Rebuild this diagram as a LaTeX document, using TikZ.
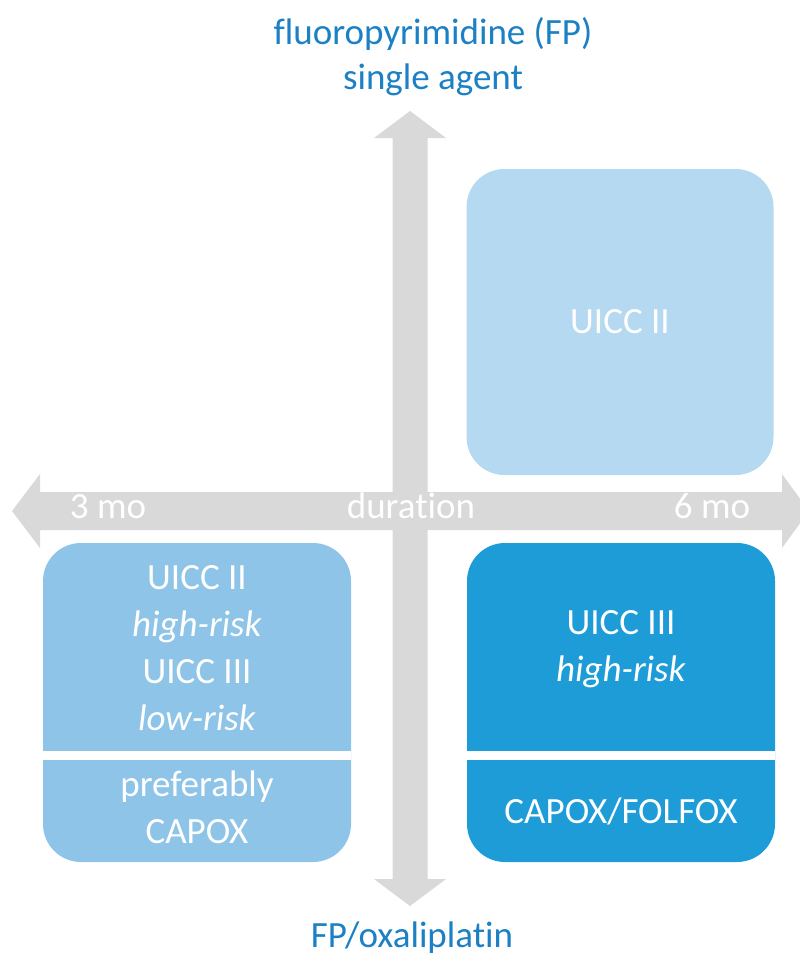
\documentclass[tikz,border=0pt]{standalone}
\usepackage{fontspec}
\setmainfont{Carlito}[Ligatures=NoCommon]
\usepackage{tikz}
\usetikzlibrary{positioning}

\definecolor{axisgray}{HTML}{D9D9D9}
\definecolor{palebox}{HTML}{B5D9F0}
\definecolor{midbox}{HTML}{8DC4E8}
\definecolor{deepbox}{HTML}{1E9CD7}
\definecolor{titleblue}{HTML}{1B80C4}

\begin{document}
\begin{tikzpicture}[
x=1pt, y=-1pt,
quad/.style={rounded corners=38pt, minimum width=307pt, minimum height=306pt, inner sep=0pt},
lbl/.style={text=white, align=center, inner sep=0pt, font=\fontsize{37}{47}\selectfont},
axislbl/.style={text=titleblue, align=center, inner sep=0pt, font=\fontsize{37}{45}\selectfont},
gap/.style={draw=white, line width=9pt}
]
\useasboundingbox (0,0) rectangle (800,958);

% axes
\fill[axisgray] (12,511) -- (40,474) -- (40,492) -- (782,492) -- (782,474) -- (809,511)
  -- (782,548) -- (782,530) -- (40,530) -- (40,548) -- cycle;
\fill[axisgray] (410,111) -- (446,138) -- (427.5,138) -- (427.5,879) -- (446,879) -- (410,906)
  -- (374,879) -- (392.5,879) -- (392.5,138) -- (374,138) -- cycle;

\node[lbl, anchor=base] (threemo) at (108,518) {3 mo};
\node[lbl, anchor=base] (duration) at (411,518) {duration};
\node[lbl, anchor=base] (sixmo) at (712,518) {6 mo};

\node[axislbl] (single) at (433,57) {fluoropyrimidine (FP)\\single agent};
\node[axislbl, anchor=base] (combo) at (412,947) {FP/oxaliplatin};

% quadrants
\node[quad, fill=palebox, lbl] (stageii) at (620,322) {UICC II};

\node[quad, fill=midbox, minimum width=308pt, minimum height=319pt] (short) at (197,702.5) {};
\draw[gap] (short.west |- 0,755.5) -- (short.east |- 0,755.5);
\node[lbl] (shortrisk) at (197,648) {UICC II\\\textit{high-risk}\\UICC III\\\textit{low-risk}};
\node[lbl] (shortregimen) at (197,807) {preferably\\CAPOX};

\node[quad, fill=deepbox, minimum width=308pt, minimum height=319pt] (long) at (621,702.5) {};
\draw[gap] (long.west |- 0,755.5) -- (long.east |- 0,755.5);
\node[lbl] (longrisk) at (621,649) {UICC III\\\textit{high-risk}};
\node[lbl] (longregimen) at (621,811) {CAPOX/FOLFOX};
\end{tikzpicture}
\end{document}
